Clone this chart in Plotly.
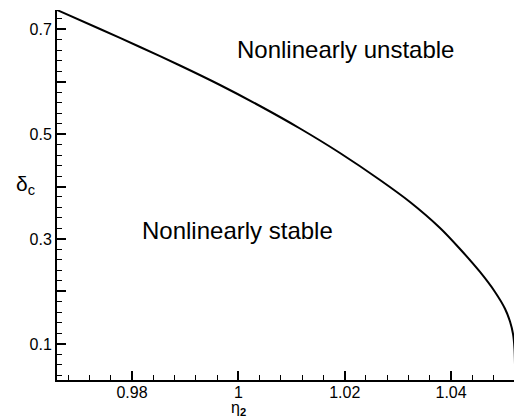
import plotly.graph_objects as go

# Curve (eta_2 vs delta_c)
eta2 = [0.96589, 0.97398, 0.98150, 0.98902, 0.99655, 1.00407, 1.01159, 1.01911,
        1.02664, 1.03228, 1.03793, 1.04169, 1.04545, 1.04827, 1.05015, 1.05109,
        1.05166, 1.05194, 1.05203]
delta_c = [0.73619, 0.70000, 0.66571, 0.63048, 0.59333, 0.55333, 0.51048, 0.46381,
           0.41238, 0.37048, 0.32095, 0.28095, 0.23714, 0.19905, 0.16710, 0.14270,
           0.11880, 0.09080, 0.06000]

x_range = [0.96589, 1.05184]
y_range = [0.0314, 0.7362]
x_tickvals = [0.98, 1.00, 1.02, 1.04]
x_ticktext = ["0.98", "1", "1.02", "1.04"]
x_minor = [0.968, 0.972, 0.976, 0.984, 0.988, 0.992, 0.996, 1.004, 1.008, 1.012,
           1.016, 1.024, 1.028, 1.032, 1.036, 1.044, 1.048]
y_tickvals = [0.1, 0.2, 0.3, 0.4, 0.5, 0.6, 0.7]
y_ticktext = ["0.1", "", "0.3", "", "0.5", "", "0.7"]
y_minor = [0.04, 0.06, 0.08, 0.12, 0.14, 0.16, 0.18, 0.22, 0.24, 0.26, 0.28,
           0.32, 0.34, 0.36, 0.38, 0.42, 0.44, 0.46, 0.48, 0.52, 0.54, 0.56, 0.58,
           0.62, 0.64, 0.66, 0.68, 0.72]

FONT = "Liberation Sans, Arial, sans-serif"

fig = go.Figure()
fig.add_trace(go.Scatter(x=eta2, y=delta_c, mode="lines",
                         line=dict(color="black", width=2, shape="spline", smoothing=0.6),
                         showlegend=False, hoverinfo="skip"))
# invisible trace on the overlay axes that carry the minor ticks
fig.add_trace(go.Scatter(x=[x_range[0]], y=[y_range[0]], xaxis="x2", yaxis="y2",
                         mode="markers", marker=dict(opacity=0), showlegend=False,
                         hoverinfo="skip"))

common = dict(showgrid=False, zeroline=False, mirror=False, tickcolor="black")

fig.update_layout(
    width=514, height=419,
    margin=dict(l=57, r=0, t=10, b=39),
    paper_bgcolor="white", plot_bgcolor="white",
    font=dict(family=FONT, color="black"),
    xaxis=dict(range=x_range, showline=True, linecolor="black", linewidth=2,
               ticks="inside", ticklen=9, tickwidth=2, ticklabelstandoff=-3,
               tickmode="array", tickvals=x_tickvals, ticktext=x_ticktext,
               tickfont=dict(size=16, family=FONT, color="black"), **common),
    yaxis=dict(range=y_range, showline=True, linecolor="black", linewidth=2,
               ticks="inside", ticklen=9, tickwidth=2,
               tickmode="array", tickvals=y_tickvals, ticktext=y_ticktext,
               tickfont=dict(size=16, family=FONT, color="black"), **common),
    xaxis2=dict(range=x_range, overlaying="x", anchor="y", side="bottom",
                showline=False, ticks="inside", ticklen=5, tickwidth=1,
                tickmode="array", tickvals=x_minor, showticklabels=False, **common),
    yaxis2=dict(range=y_range, overlaying="y", anchor="x", side="left",
                showline=False, ticks="inside", ticklen=5, tickwidth=1,
                tickmode="array", tickvals=y_minor, showticklabels=False, **common),
    annotations=[
        dict(text="Nonlinearly unstable", x=0.632, y=0.892, xref="paper", yref="paper",
             xanchor="center", yanchor="middle",
             showarrow=False, font=dict(size=24, family=FONT, color="black")),
        dict(text="Nonlinearly stable", x=0.394, y=0.405, xref="paper", yref="paper",
             xanchor="center", yanchor="middle",
             showarrow=False, font=dict(size=24, family=FONT, color="black")),
        dict(text="δ<sub>c</sub>", x=-0.070, y=0.527, xref="paper", yref="paper",
             xanchor="center", yanchor="middle",
             showarrow=False, font=dict(size=21, family=FONT, color="black")),
        dict(text="η<sub><b>2</b></sub>", x=0.398, y=-0.078, xref="paper", yref="paper",
             xanchor="center", yanchor="middle",
             showarrow=False, font=dict(size=16, family=FONT, color="black")),
    ],
)

fig.write_html("out.html", config={"displayModeBar": False},
               post_script="document.body.style.margin='0px';document.body.style.overflow='hidden';")
